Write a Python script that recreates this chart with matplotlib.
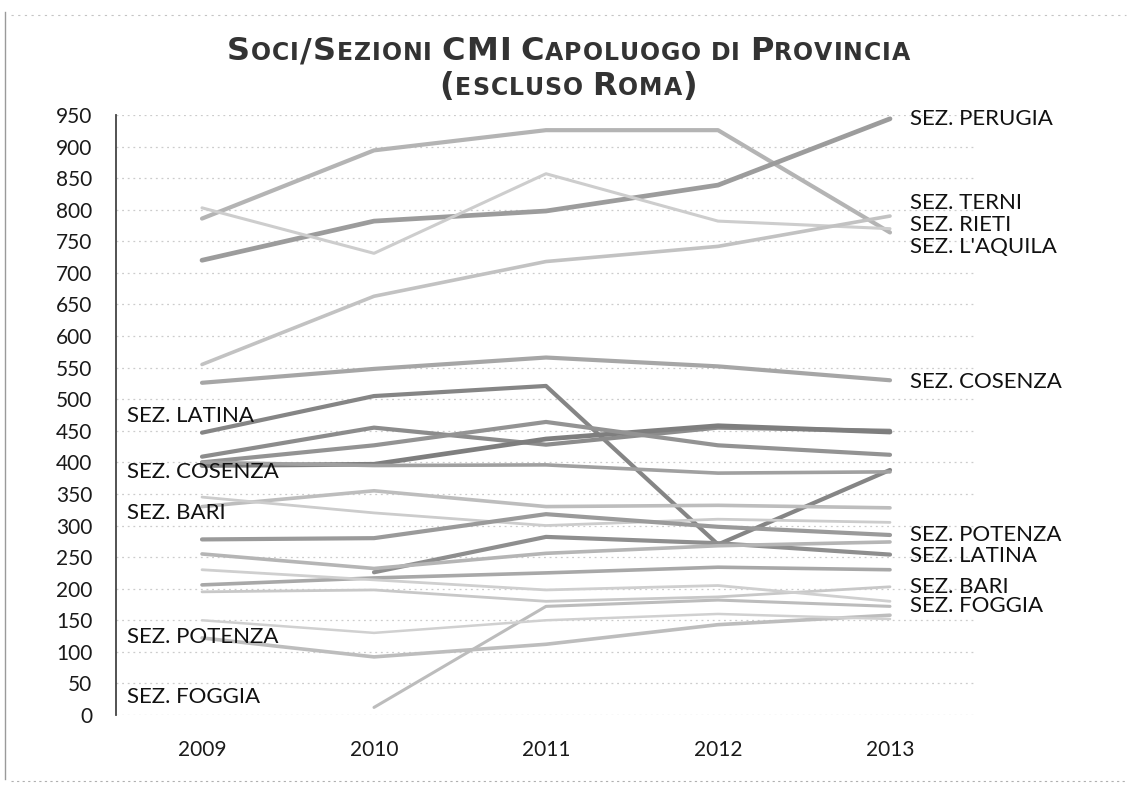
import matplotlib
matplotlib.use("Agg")
import matplotlib.pyplot as plt
from matplotlib.lines import Line2D
from matplotlib.font_manager import FontProperties
import numpy as np

plt.rcParams['font.family'] = ['Lato', 'DejaVu Sans']

# ---------------- data ----------------
years = ['2009', '2010', '2011', '2012', '2013']

terni    = [786, 894, 926, 926, 764]
perugia  = [720, 782, 798, 839, 944]
rieti    = [803, 731, 857, 782, 770]
laquila  = [555, 663, 718, 742, 790]
cosenza  = [526, 548, 566, 552, 530]
latina   = [447, 505, 521, 270, 388]
s07      = [409, 455, 428, 455, 450]
s08      = [395, 397, 437, 458, 448]
s09      = [400, 427, 464, 427, 412]
s10      = [400, 395, 396, 383, 385]
bari     = [330, 355, 330, 332, 328]
s12      = [345, 320, 300, 310, 305]
potenza2 = [278, 280, 318, 298, 285]
s14      = [np.nan, 226, 282, 272, 254]
s15      = [255, 232, 256, 268, 274]
s16      = [206, 217, 225, 234, 230]
s17      = [195, 198, 180, 187, 203]
foggia   = [np.nan, 12, 172, 182, 172]
s19      = [230, 214, 198, 205, 180]
potenza  = [122, 92, 112, 143, 158]
s21      = [150, 130, 150, 160, 152]

left_labels = ['SEZ. LATINA', 'SEZ. COSENZA', 'SEZ. BARI', 'SEZ. POTENZA', 'SEZ. FOGGIA']
left_label_vals = [474, 385, 320, 123, 28]
right_labels = ['SEZ. PERUGIA', 'SEZ. TERNI', 'SEZ. RIETI', "SEZ. L'AQUILA", 'SEZ. COSENZA',
                'SEZ. POTENZA', 'SEZ. LATINA', 'SEZ. BARI', 'SEZ. FOGGIA']
right_label_vals = [943, 810, 776, 741, 527, 285, 252, 203, 172]

title_line1 = 'Soci/Sezioni CMI Capoluogo di Provincia'
title_line2 = '(escluso Roma)'

series = [terni, perugia, rieti, laquila, cosenza, latina, s07, s08, s09, s10,
          bari, s12, potenza2, s14, s15, s16, s17, foggia, s19, potenza, s21]

# styles (colour, linewidth) per series
styles = [('#b4b4b4', 3.0), ('#9c9c9c', 3.4), ('#cdcdcd', 2.2), ('#c2c2c2', 2.6),
          ('#a6a6a6', 3.0), ('#858585', 3.0), ('#8c8c8c', 3.0), ('#7e7e7e', 3.4),
          ('#939393', 3.0), ('#a0a0a0', 2.6), ('#bdbdbd', 2.6), ('#cccccc', 2.0),
          ('#9a9a9a', 3.0), ('#8e8e8e', 3.0), ('#b5b5b5', 2.6), ('#a8a8a8', 2.6),
          ('#c8c8c8', 2.0), ('#bcbcbc', 2.2), ('#cfcfcf', 2.0), ('#bdbdbd', 2.6),
          ('#d0d0d0', 1.8)]

# ---------------- figure ----------------
W, H = 1137, 787
fig = plt.figure(figsize=(W / 100, H / 100), dpi=100)
fig.patch.set_facecolor('white')
ax = fig.add_axes([116 / W, 72 / H, 860 / W, 600 / H])

x = np.arange(len(years)) + 0.5
for vals, (c, lw) in zip(series, styles):
    ax.plot(x, vals, color=c, lw=lw, solid_capstyle='round', solid_joinstyle='round', zorder=3)

ax.set_xlim(0, 5)
ax.set_ylim(0, 950)
ax.set_yticks(np.arange(0, 951, 50))
ax.set_xticks(x)
ax.set_xticklabels(years)
ax.yaxis.grid(True, color='#cccccc', linestyle=(0, (1.5, 3)), linewidth=0.9)
ax.set_axisbelow(True)
for s in ['top', 'right', 'bottom']:
    ax.spines[s].set_visible(False)
ax.spines['left'].set_color('#444444')
ax.spines['left'].set_linewidth(1.3)
ax.tick_params(axis='both', length=0, labelsize=15, colors='#1a1a1a')
ax.tick_params(axis='y', pad=17)
ax.tick_params(axis='x', pad=18)

# data labels
def px2x(px):
    return (px - 116) / 172.0

for t, v in zip(left_labels, left_label_vals):
    ax.text(px2x(127), v, t, ha='left', va='center', fontsize=16, color='#111111', zorder=5)
for t, v in zip(right_labels, right_label_vals):
    ax.text(px2x(910), v, t, ha='left', va='center', fontsize=16, color='#111111',
            clip_on=False, zorder=5)

# ---------------- small-caps title ----------------
renderer = fig.canvas.get_renderer()
TFAM = 'DejaVu Sans'
TCOL = '#333333'
BIG, SMALL = 23, 17


def layout_smallcaps(text):
    items = []
    for ch in text:
        if ch == ' ':
            items.append((' ', SMALL, 0.33 * SMALL * 100 / 72))
            continue
        size = SMALL if ch.islower() else BIG
        c = ch.upper()
        fp = FontProperties(family=TFAM, weight='bold', size=size)
        w = renderer.get_text_width_height_descent(c, fp, ismath=False)[0]
        items.append((c, size, w))
    return items


def draw_smallcaps(items, baseline_px, sep):
    natural = sum(w for _, _, w in items)
    total = natural + sep * (len(items) - 1)
    x0 = W / 2 - total / 2
    for c, size, w in items:
        if c != ' ':
            fig.text(x0 / W, 1 - baseline_px / H, c, fontsize=size, fontweight='bold',
                     family=TFAM, color=TCOL, ha='left', va='baseline')
        x0 += w + sep


it1 = layout_smallcaps(title_line1)
it2 = layout_smallcaps(title_line2)
target1 = 683.0
sep = max(0.5, (target1 - sum(w for _, _, w in it1)) / (len(it1) - 1))
draw_smallcaps(it1, 60, sep)
draw_smallcaps(it2, 95, sep)

# scanned frame
fig.add_artist(Line2D([5 / W, 5 / W], [0.01, 0.985], transform=fig.transFigure, color='#9a9a9a', lw=1.0))
fig.add_artist(Line2D([0.01, 0.99], [1 - 781 / H] * 2, transform=fig.transFigure,
                      color='#b0b0b0', lw=0.8, linestyle=(0, (2, 3))))
fig.add_artist(Line2D([0.01, 0.99], [1 - 15 / H] * 2, transform=fig.transFigure,
                      color='#c4c4c4', lw=0.8, linestyle=(0, (2, 4))))

fig.savefig('out.png', dpi=100, facecolor='white')
